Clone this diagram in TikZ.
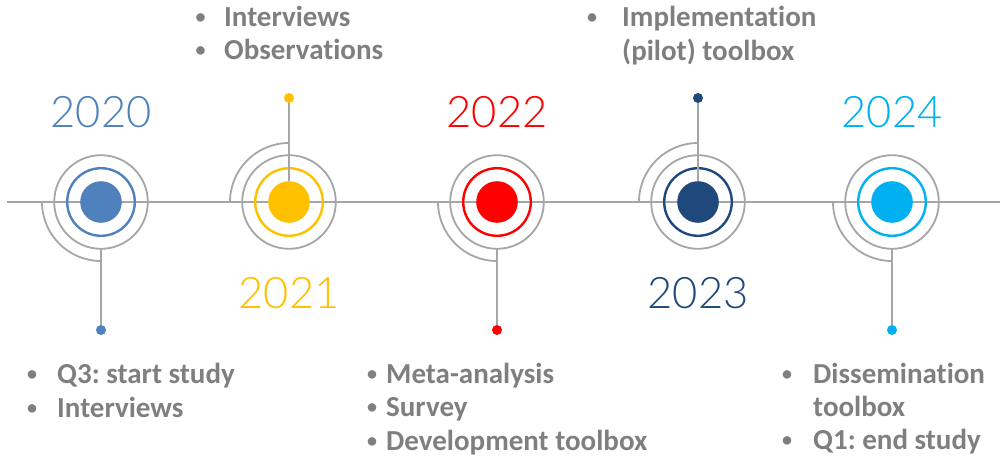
\documentclass[tikz,border=0pt]{standalone}
\usepackage{fontspec}
\setmainfont{Carlito}[Ligatures=NoCommon]
\IfFontExistsTF{Lato Light}{\newfontfamily\yearfont{Lato Light}}{\newfontfamily\yearfont{Carlito}}
\frenchspacing
\definecolor{cA}{HTML}{4F81BD}
\definecolor{cB}{HTML}{FFC000}
\definecolor{cC}{HTML}{FF0000}
\definecolor{cD}{HTML}{1F497D}
\definecolor{cE}{HTML}{00B0F0}
\definecolor{lgray}{HTML}{A6A6A6}
\definecolor{tgray}{HTML}{7F7F7F}
\tikzset{
  gline/.style={draw=lgray, line width=1.8pt},
  core/.style={circle, fill=#1, minimum size=41.6pt, inner sep=0pt, outer sep=0pt},
  ring/.style={circle, draw=#1, line width=2.4pt, minimum size=67.6pt, inner sep=0pt, outer sep=0pt},
  halo/.style={circle, draw=lgray, line width=1.8pt, minimum size=93.6pt, inner sep=0pt, outer sep=0pt},
  tipdot/.style={circle, fill=#1, minimum size=10pt, inner sep=0pt, outer sep=0pt},
  year/.style={font=\yearfont\fontsize{43.5}{43.5}\selectfont, text=#1, anchor=base, inner sep=0pt},
  txt/.style={font=\bfseries\fontsize{29}{33.5}\selectfont, text=tgray, anchor=base west, inner sep=0pt},
  bul/.style={font=\bfseries\fontsize{20}{20}\selectfont, text=tgray, anchor=base, inner sep=0pt},
}
\begin{document}
\begin{tikzpicture}[x=1pt,y=-1pt]
\useasboundingbox (0,0) rectangle (1005,466);
% timeline
\coordinate (tl) at (7,202);
\coordinate (tr) at (1000,202);
\draw[gline] (tl) -- (tr);
% arcs
\draw[gline] (42,202) arc[start angle=180, end angle=270, radius=59pt];
\draw[gline] (230,202) arc[start angle=180, end angle=90, radius=59pt];
\draw[gline] (438,202) arc[start angle=180, end angle=270, radius=59pt];
\draw[gline] (639,202) arc[start angle=180, end angle=90, radius=59pt];
\draw[gline] (833,202) arc[start angle=180, end angle=270, radius=59pt];
% circles
\foreach \n/\x/\c in {a/101/cA, b/289/cB, c/497/cC, d/698/cD, e/892/cE}{
  \node[halo] (h\n) at (\x,202) {};
  \node[ring=\c] (r\n) at (\x,202) {};
  \node[core=\c] (k\n) at (\x,202) {};
}
% dots
\node[tipdot=cA] (da) at (101,330) {};
\node[tipdot=cB] (db) at (289,98) {};
\node[tipdot=cC] (dc) at (497,330) {};
\node[tipdot=cD] (dd) at (698,98) {};
\node[tipdot=cE] (de) at (892,330) {};
\draw[gline] (ha.south) -- (da);
\draw[gline] (kb.north) -- (db);
\draw[gline] (hc.south) -- (dc);
\draw[gline] (kd.north) -- (dd);
\draw[gline] (he.south) -- (de);
% years
\node[year=cA] (ya) at (101,127) {2020};
\node[year=cB] (yb) at (289,308) {2021};
\node[year=cC] (yc) at (497,127) {2022};
\node[year=cD] (yd) at (698,308) {2023};
\node[year=cE] (ye) at (892,127) {2024};
% texts 2020
\node[bul] (ba1) at (32,380) {•};
\node[txt] (ta1) at (57,383) {Q3: start study};
\node[bul] (ba2) at (32,414) {•};
\node[txt] (ta2) at (57,417) {Interviews};
% texts 2021
\node[bul] (bb1) at (200.5,23) {•};
\node[txt] (tb1) at (224,26) {Interviews};
\node[bul] (bb2) at (200.5,56) {•};
\node[txt] (tb2) at (224,59) {Observations};
% texts 2022
\node[bul] (bc1) at (372,380) {•};
\node[txt] (tc1) at (386,383) {Meta-analysis};
\node[bul] (bc2) at (372,413.5) {•};
\node[txt] (tc2) at (386,416.5) {Survey};
\node[bul] (bc3) at (372,447) {•};
\node[txt] (tc3) at (386,450) {Development toolbox};
% texts 2023
\node[bul] (bd1) at (592,23) {•};
\node[txt] (td1) at (622,26) {Implementation};
\node[txt] (td2) at (622,60) {(pilot) toolbox};
% texts 2024
\node[bul] (be1) at (787,380) {•};
\node[txt] (te1) at (813,383) {Dissemination};
\node[txt] (te2) at (813,416) {toolbox};
\node[bul] (be3) at (787,446) {•};
\node[txt] (te3) at (813,449) {Q1: end study};
\end{tikzpicture}
\end{document}
